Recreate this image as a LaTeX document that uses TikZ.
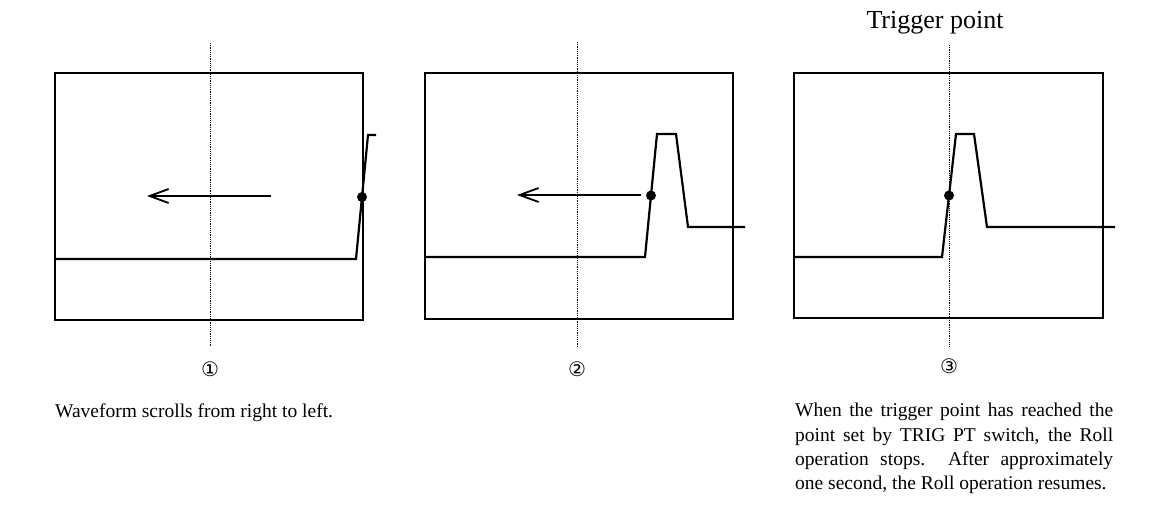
\documentclass[tikz,border=0pt]{standalone}
\usepackage{fontspec}
\setmainfont{Liberation Serif}
\newfontfamily\symfont{DejaVu Sans}
\usetikzlibrary{arrows.meta,positioning,calc}

\begin{document}
\begin{tikzpicture}[x=1pt,y=-1pt,
  screen/.style={line width=2pt},
  trace/.style={line width=2.2pt,line join=miter},
  centre/.style={line width=1pt,dash pattern=on 1.1pt off 1.1pt},
  scrollarr/.style={line width=2.1pt,-{Straight Barb[length=19pt,width=14pt,line width=1.8pt]}},
  tdot/.style={circle,fill,inner sep=0pt,minimum size=10pt},
  numlbl/.style={font=\symfont\fontsize{20}{20}\selectfont,inner sep=0pt},
  caption/.style={font=\fontsize{19.5}{24.3}\selectfont,inner sep=0pt}
]
\useasboundingbox (0,0) rectangle (1173,525);

% panel 1: leading edge enters from the right
\begin{scope}[xshift=55pt]
  \draw[screen] (0,73) rectangle (308,320);
  \coordinate (c1t) at (155,43);
  \coordinate (c1b) at (155,346);
  \draw[centre] (c1t) -- (c1b);
  \coordinate (a1s) at (216,196);
  \coordinate (a1e) at (92,196);
  \draw[scrollarr] (a1s) -- (a1e);
  \coordinate (r1a) at (301,259);
  \coordinate (r1b) at (313,135);
  \draw[trace] (0,259) -- (r1a) -- (r1b) -- (321,135);
  \node[tdot] (d1) at ($(r1a)!.5!(r1b)$) {};
  \node[numlbl] (n1) at (155,369) {①};
\end{scope}

% panel 2: pulse moving left
\begin{scope}[xshift=425pt]
  \draw[screen] (0,73) rectangle (308,319);
  \coordinate (c2t) at (152,42);
  \coordinate (c2b) at (152,346);
  \draw[centre] (c2t) -- (c2b);
  \coordinate (a2s) at (216,195);
  \coordinate (a2e) at (92,195);
  \draw[scrollarr] (a2s) -- (a2e);
  \coordinate (r2a) at (220,257);
  \coordinate (r2b) at (232,134);
  \draw[trace] (0,257) -- (r2a) -- (r2b) -- (251,134) -- (263,227) -- (320,227);
  \node[tdot] (d2) at ($(r2a)!.5!(r2b)$) {};
  \node[numlbl] (n2) at (152,369) {②};
\end{scope}

% panel 3: trigger point reached
\begin{scope}[xshift=794pt]
  \draw[screen] (0,73) rectangle (309,318);
  \coordinate (c3t) at (155,45);
  \coordinate (c3b) at (155,347);
  \draw[centre] (c3t) -- (c3b);
  \coordinate (r3a) at (148,257);
  \coordinate (r3b) at (162,134);
  \draw[trace] (0,257) -- (r3a) -- (r3b) -- (180,134) -- (193,227) -- (321,227);
  \node[tdot] (d3) at ($(r3a)!.5!(r3b)$) {};
  \node[numlbl] (n3) at (155,366) {③};
  \node[font=\fontsize{26}{28}\selectfont,inner sep=0pt] (trig) at (141,23) {Trigger point};
\end{scope}

% captions
\node[caption,anchor=base west] (cap1) at (55,417) {Waveform scrolls from right to left.};
\node[caption,anchor=north west,text width=318pt,align=justify] (cap3) at (795,403)
  {\parfillskip=0pt When the trigger point has reached the\linebreak
   point set by TRIG PT switch, the Roll\linebreak
   operation stops.\ \ After approximately\linebreak
   one second, the Roll operation resumes.};
\end{tikzpicture}
\end{document}
